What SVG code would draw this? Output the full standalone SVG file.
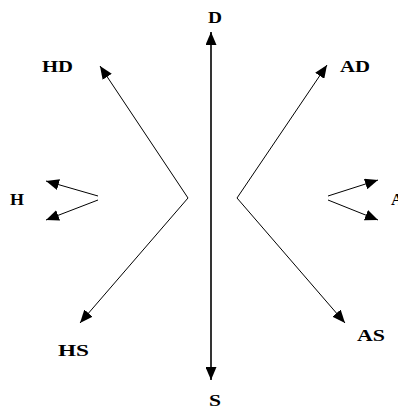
<svg xmlns="http://www.w3.org/2000/svg" width="398" height="410" viewBox="0 0 398 410">
<style>
text{font-family:"Liberation Serif","Times New Roman",serif;font-weight:bold;font-size:17px;fill:#000}
.c{stroke:#000;stroke-width:1;fill:none;marker-end:url(#ah)}
.v{stroke:#000;stroke-width:1.6;fill:none;marker-end:url(#ah);marker-start:url(#ahs)}
</style>
<defs>
<marker id="ah" markerUnits="userSpaceOnUse" markerWidth="13" markerHeight="11" refX="13" refY="5.5" orient="auto"><path d="M0,0 L13,5.5 L0,11 z" fill="#000"/></marker>
<marker id="ahs" markerUnits="userSpaceOnUse" markerWidth="13" markerHeight="11" refX="0" refY="5.5" orient="auto"><path d="M13,0 L0,5.5 L13,11 z" fill="#000"/></marker>
</defs>
<rect width="398" height="410" fill="#fff"/>
<g id="connectors">
<line class="v" x1="211" y1="32" x2="211" y2="380"/>
<polyline class="c" points="80,323 188,198 100,66" style="marker-start:url(#ahs)"/>
<polyline class="c" points="345,323 237,198 327,65" style="marker-start:url(#ahs)"/>
<line class="c" x1="98" y1="196" x2="46" y2="181"/>
<line class="c" x1="98" y1="200" x2="46" y2="220"/>
<line class="c" x1="328" y1="196" x2="378" y2="180"/>
<line class="c" x1="328" y1="200" x2="378" y2="220"/>
</g>
<g id="D"><text x="208" y="23" textLength="14" lengthAdjust="spacingAndGlyphs">D</text></g>
<g id="S"><text x="209" y="406" textLength="12" lengthAdjust="spacingAndGlyphs">S</text></g>
<g id="HD"><text x="42" y="72" textLength="31" lengthAdjust="spacingAndGlyphs">HD</text></g>
<g id="AD"><text x="340" y="72" textLength="30" lengthAdjust="spacingAndGlyphs">AD</text></g>
<g id="H"><text x="10" y="205" textLength="14" lengthAdjust="spacingAndGlyphs">H</text></g>
<g id="A"><text x="391" y="205">A</text></g>
<g id="HS"><text x="58" y="356" textLength="31" lengthAdjust="spacingAndGlyphs">HS</text></g>
<g id="AS"><text x="357" y="341" textLength="28" lengthAdjust="spacingAndGlyphs">AS</text></g>
</svg>
